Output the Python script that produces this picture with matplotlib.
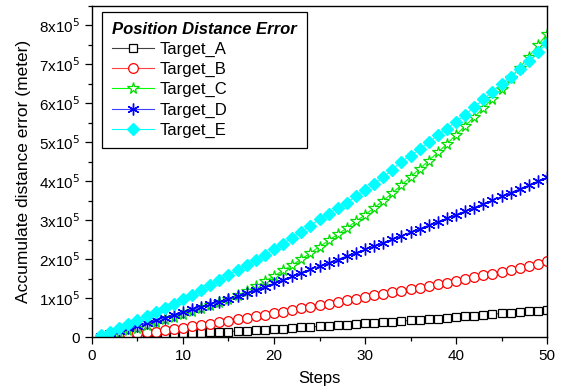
import numpy as np
import matplotlib
matplotlib.use('Agg')
import matplotlib.pyplot as plt
from matplotlib.ticker import MultipleLocator, FuncFormatter

plt.rcParams['font.family'] = ['Liberation Sans', 'DejaVu Sans']

# Steps 1..50, values in units of 1e5 meters
steps = list(range(1, 51))

target_a = [0.005, 0.01, 0.02, 0.03, 0.04, 0.05, 0.06, 0.07, 0.08, 0.09,
            0.10, 0.11, 0.12, 0.13, 0.14, 0.155, 0.165, 0.18, 0.19, 0.20,
            0.215, 0.23, 0.245, 0.26, 0.275, 0.29, 0.305, 0.32, 0.335, 0.35,
            0.365, 0.38, 0.395, 0.41, 0.425, 0.44, 0.46, 0.475, 0.49, 0.51,
            0.53, 0.55, 0.565, 0.585, 0.605, 0.625, 0.645, 0.665, 0.68, 0.70]

target_b = [0.01, 0.03, 0.05, 0.07, 0.095, 0.12, 0.14, 0.17, 0.20, 0.24,
            0.27, 0.31, 0.345, 0.38, 0.42, 0.46, 0.50, 0.535, 0.57, 0.61,
            0.65, 0.69, 0.735, 0.775, 0.815, 0.86, 0.90, 0.945, 0.985, 1.03,
            1.07, 1.11, 1.15, 1.19, 1.23, 1.27, 1.31, 1.355, 1.395, 1.44,
            1.485, 1.53, 1.58, 1.625, 1.675, 1.72, 1.77, 1.82, 1.88, 1.94]

target_c = [0.01, 0.05, 0.10, 0.17, 0.24, 0.31, 0.38, 0.45, 0.52, 0.59,
            0.66, 0.74, 0.82, 0.90, 0.98, 1.07, 1.18, 1.30, 1.43, 1.57,
            1.71, 1.85, 2.00, 2.16, 2.32, 2.48, 2.64, 2.80, 2.97, 3.14,
            3.32, 3.50, 3.70, 3.90, 4.11, 4.32, 4.53, 4.74, 4.96, 5.19,
            5.42, 5.65, 5.88, 6.12, 6.38, 6.65, 6.92, 7.20, 7.49, 7.78]

target_d = [0.03, 0.09, 0.15, 0.22, 0.29, 0.36, 0.43, 0.50, 0.57, 0.64,
            0.71, 0.77, 0.84, 0.91, 0.98, 1.05, 1.12, 1.20, 1.29, 1.38,
            1.47, 1.56, 1.65, 1.74, 1.82, 1.91, 1.99, 2.08, 2.16, 2.25,
            2.34, 2.42, 2.51, 2.60, 2.69, 2.78, 2.87, 2.96, 3.05, 3.14,
            3.23, 3.32, 3.42, 3.51, 3.61, 3.71, 3.80, 3.90, 4.00, 4.10]

target_e = [0.05, 0.14, 0.24, 0.34, 0.44, 0.54, 0.65, 0.75, 0.86, 0.97,
            1.09, 1.21, 1.33, 1.46, 1.59, 1.72, 1.85, 1.98, 2.11, 2.25,
            2.40, 2.55, 2.70, 2.86, 3.02, 3.17, 3.31, 3.45, 3.61, 3.77,
            3.93, 4.10, 4.30, 4.50, 4.66, 4.82, 5.00, 5.18, 5.35, 5.53,
            5.71, 5.90, 6.10, 6.30, 6.50, 6.68, 6.87, 7.08, 7.31, 7.55]

scale = 1e5

fig = plt.figure(figsize=(5.63, 3.92), dpi=100)
ax = fig.add_axes([0.1634, 0.1403, 0.8082, 0.8444])

x = np.array(steps)
ax.plot(x, np.array(target_a) * scale, color='#404040', lw=0.8, marker='s',
        ms=6, mfc='white', mec='black', mew=0.9, label='Target_A')
ax.plot(x, np.array(target_b) * scale, color='#ff4040', lw=0.8, marker='o',
        ms=7, mfc='white', mec='red', mew=0.9, label='Target_B')
ax.plot(x, np.array(target_c) * scale, color='#00ff00', lw=0.8,
        marker='*', ms=8.5, mfc='white', mec='#00dd00', mew=0.9, label='Target_C')
ax.plot(x, np.array(target_d) * scale, color='#4040ff', lw=0.8, marker=(6, 2, 0),
        ms=8.5, mec='blue', mew=1.0, label='Target_D')
ax.plot(x, np.array(target_e) * scale, color='cyan', lw=0.8, marker='D',
        ms=6.5, mfc='cyan', mec='cyan', label='Target_E')

ax.set_xlim(0, 50)
ax.set_ylim(0, 8.5e5)
ax.xaxis.set_major_locator(MultipleLocator(10))
ax.xaxis.set_minor_locator(MultipleLocator(5))
ax.yaxis.set_major_locator(MultipleLocator(1e5))
ax.yaxis.set_minor_locator(MultipleLocator(0.5e5))


def ylab(v, pos):
    n = int(round(v / 1e5))
    if n == 0:
        return '0'
    return f'{n}x10$^5$'


ax.yaxis.set_major_formatter(FuncFormatter(ylab))
ax.tick_params(which='both', direction='out', top=False, right=False,
               labelsize=11, width=0.9)
ax.tick_params(which='major', length=5)
ax.tick_params(which='minor', length=3)
for s in ax.spines.values():
    s.set_linewidth(1.0)

ax.set_xlabel('Steps', fontsize=12, labelpad=6)
ax.set_ylabel('Accumulate distance error (meter)', fontsize=12.5, labelpad=6)

leg = ax.legend(loc='upper left', bbox_to_anchor=(0.022, 0.982), borderaxespad=0,
                title='Position Distance Error', alignment='left',
                fontsize=12, fancybox=False, edgecolor='black', framealpha=1,
                handlelength=2.5, handletextpad=0.35, borderpad=0.6, labelspacing=0.3)
leg.get_title().set_fontweight('bold')
leg.get_title().set_fontstyle('italic')
leg.get_title().set_fontsize(12)
leg.get_frame().set_linewidth(0.9)

fig.savefig('out.png', dpi=100)
